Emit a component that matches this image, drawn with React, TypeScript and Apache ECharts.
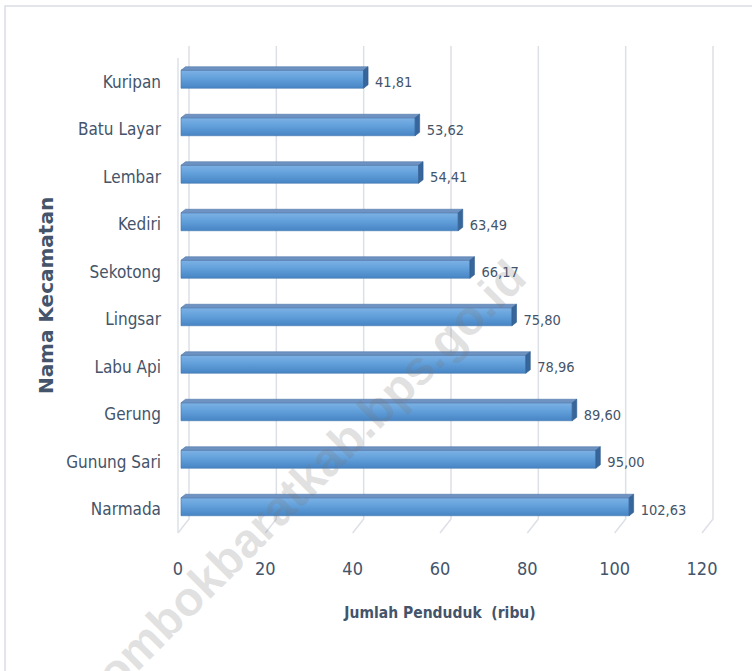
import React, { useEffect, useRef } from "react";
import * as echarts from "echarts";

const categories = ["Kuripan", "Batu Layar", "Lembar", "Kediri", "Sekotong", "Lingsar", "Labu Api", "Gerung", "Gunung Sari", "Narmada"];
const values = [41.81, 53.62, 54.41, 63.49, 66.17, 75.8, 78.96, 89.6, 95.0, 102.63];
const xTicks = [0, 20, 40, 60, 80, 100, 120];
const xAxisTitle = "Jumlah Penduduk  (ribu)";
const yAxisTitle = "Nama Kecamatan";
const watermark = "lombokbaratkab.bps.go.id";

const NARROW = '"Liberation Sans Narrow", "DejaVu Sans Condensed", sans-serif';
const TEXT = "#44546A";
const GRID = "#DDE0E7";

export default function App() {
  const ref = useRef<HTMLDivElement>(null);
  useEffect(() => {
    document.body.style.margin = "0";
    const chart = echarts.init(ref.current!, null, { renderer: "svg" });
    const DX = 11, DY = 14;
    chart.setOption({
      animation: false,
      backgroundColor: "#ffffff",
      grid: { left: 178, right: 50, top: 58, bottom: 138, containLabel: false },
      xAxis: {
        type: "value",
        min: 0,
        max: 120,
        interval: 20,
        axisLine: { show: false },
        axisTick: { show: false },
        splitLine: { show: false },
        axisLabel: { color: TEXT, fontSize: 18, fontFamily: NARROW, margin: 26 },
        name: xAxisTitle,
        nameLocation: "middle",
        nameGap: 72,
        nameMoveOverlap: false,
        nameTextStyle: { color: TEXT, fontSize: 15.5, fontWeight: "bold", fontFamily: NARROW, verticalAlign: "top" },
      },
      yAxis: {
        type: "category",
        data: categories,
        inverse: true,
        axisLine: { show: false },
        axisTick: { show: false },
        splitLine: { show: false },
        axisLabel: { color: TEXT, fontSize: 17, fontFamily: NARROW, margin: 17 },
        name: yAxisTitle,
        nameLocation: "middle",
        nameRotate: 90,
        nameGap: 122,
        nameMoveOverlap: false,
        nameTextStyle: { color: TEXT, fontSize: 20, fontWeight: "bold", fontFamily: '"DejaVu Sans", sans-serif' },
      },
      series: [
        {
          type: "custom",
          silent: true,
          z: 1,
          data: xTicks.map((t) => [t, 0]),
          encode: { x: 0, y: 1 },
          renderItem: (params: any, api: any) => {
            const cs = params.coordSys;
            const x = api.coord([api.value(0), 0])[0];
            const top = cs.y;
            const bottom = cs.y + cs.height;
            const children: any[] = [
              {
                type: "polyline",
                shape: { points: [[x + DX, top - 12], [x + DX, bottom - DY], [x, bottom]] },
                style: { stroke: GRID, lineWidth: 1.5, fill: null },
              },
            ];
            if (api.value(0) === 0) {
              children.push({
                type: "line",
                shape: { x1: x, y1: top, x2: x, y2: bottom },
                style: { stroke: GRID, lineWidth: 1.5 },
              });
            }
            return { type: "group", children };
          },
        },
        {
          type: "custom",
          z: 3,
          data: values.map((v, i) => [v, i]),
          encode: { x: 0, y: 1 },
          renderItem: (params: any, api: any) => {
            const v = api.value(0);
            const i = api.value(1);
            const [x1r, yc] = api.coord([v, i]);
            const x0 = api.coord([0, i])[0] + 3;
            const x1 = x1r + 3;
            const yT = yc - 11.5;
            const yB = yc + 6.5;
            const dx = 4.5, dy = 3.5;
            return {
              type: "group",
              children: [
                {
                  type: "rect",
                  shape: { x: x0, y: yT, width: x1 - x0, height: yB - yT },
                  style: {
                    fill: {
                      type: "linear", x: 0, y: 0, x2: 0, y2: 1,
                      colorStops: [
                        { offset: 0, color: "#7DB2E5" },
                        { offset: 0.45, color: "#62A0DB" },
                        { offset: 1, color: "#4784C4" },
                      ],
                    },
                    stroke: "#4577AE",
                    lineWidth: 0.6,
                  },
                },
                {
                  type: "polygon",
                  shape: { points: [[x0, yT], [x1, yT], [x1 + dx, yT - dy], [x0 + dx, yT - dy]] },
                  style: { fill: "#6E93C2", stroke: "#4F76A8", lineWidth: 0.6 },
                },
                {
                  type: "polygon",
                  shape: { points: [[x1, yT], [x1 + dx, yT - dy], [x1 + dx, yB - dy], [x1, yB]] },
                  style: { fill: "#36669C", stroke: "#2F5A8C", lineWidth: 0.6 },
                },
                {
                  type: "text",
                  style: {
                    x: x1 + dx + 7,
                    y: yc + 0.5,
                    text: v.toFixed(2).replace(".", ","),
                    fill: TEXT,
                    fontSize: 14.5,
                    fontFamily: NARROW,
                    verticalAlign: "middle",
                    align: "left",
                  },
                },
              ],
            };
          },
        },
      ],
      graphic: [
        {
          type: "rect",
          silent: true,
          z: 0,
          shape: { x: 5, y: 6, width: 800, height: 800 },
          style: { fill: null, stroke: "#DADDE4", lineWidth: 1.5 },
        },
        {
          type: "text",
          silent: true,
          z: 100,
          x: 306,
          y: 480,
          rotation: Math.PI / 4,
          style: {
            text: watermark,
            fontSize: 48,
            fontWeight: "bold",
            fontFamily: '"Liberation Sans", Arial, sans-serif',
            fill: "rgba(120,120,120,0.22)",
            align: "center",
            verticalAlign: "middle",
          },
        },
      ],
    });
    return () => chart.dispose();
  }, []);
  return <div ref={ref} style={{ width: 752, height: 671 }} />;
}
